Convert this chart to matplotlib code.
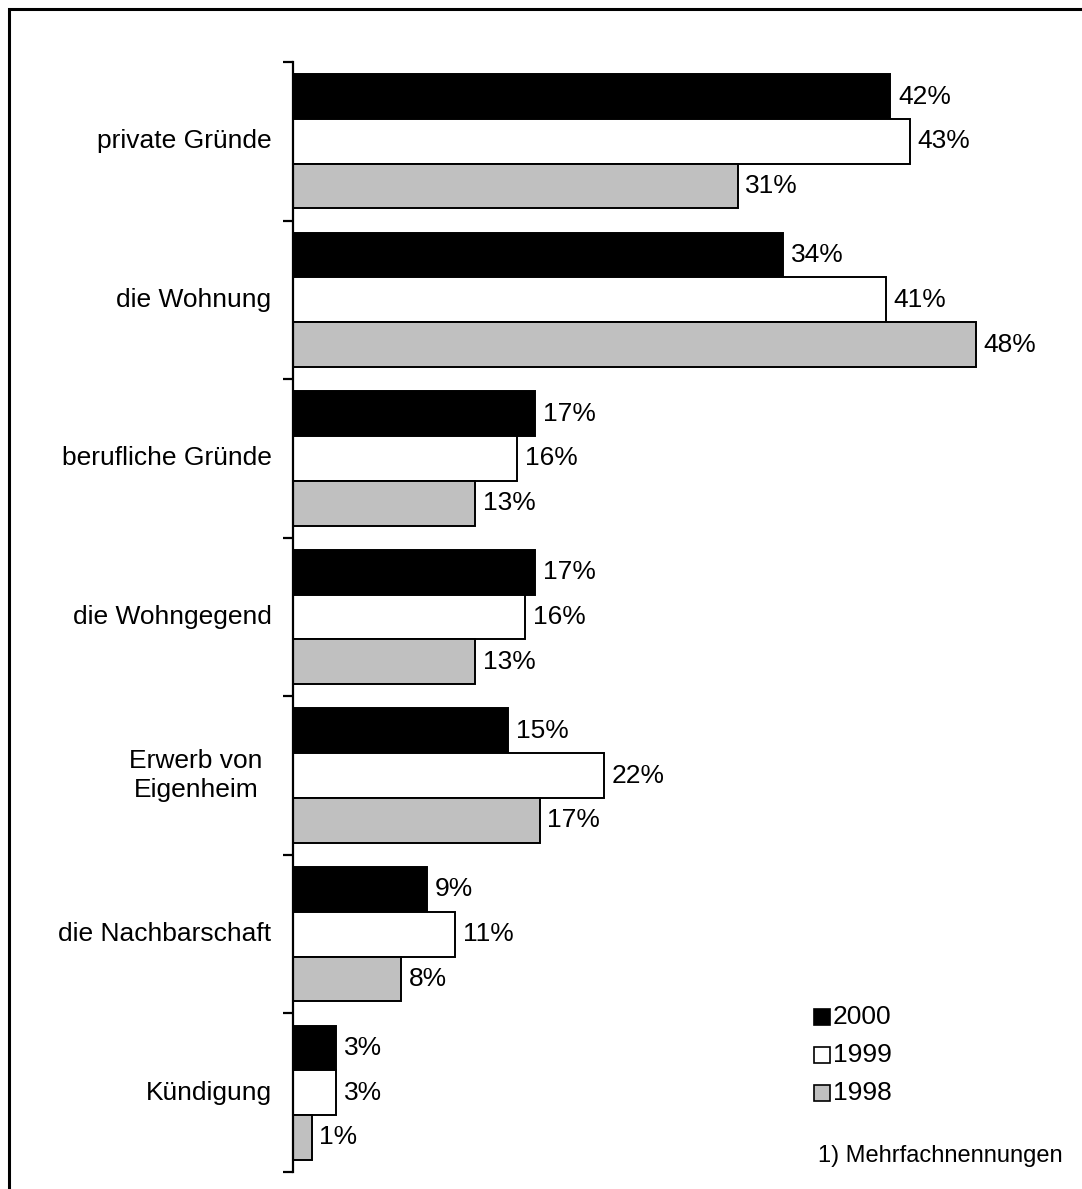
import numpy as np
import matplotlib.pyplot as plt
from matplotlib.patches import Rectangle

plt.rcParams['font.family'] = ['Liberation Sans', 'DejaVu Sans']

categories = ["private Gründe", "die Wohnung", "berufliche Gründe", "die Wohngegend",
              "Erwerb von\nEigenheim", "die Nachbarschaft", "Kündigung"]
years = ["2000", "1999", "1998"]
v2000 = [41.9, 34.4, 17.0, 17.0, 15.1, 9.4, 3.0]
v1999 = [43.3, 41.6, 15.7, 16.3, 21.8, 11.4, 3.0]
v1998 = [31.2, 47.9, 12.8, 12.8, 17.3, 7.6, 1.3]
lab2000 = ["42%", "34%", "17%", "17%", "15%", "9%", "3%"]
lab1999 = ["43%", "41%", "16%", "16%", "22%", "11%", "3%"]
lab1998 = ["31%", "48%", "13%", "13%", "17%", "8%", "1%"]
colors = ["black", "white", "#c0c0c0"]
footnote = "1) Mehrfachnennungen"

FS = 19
W, H = 1082, 1189
fig = plt.figure(figsize=(W / 100, H / 100), dpi=100)
# axes: x from 293 px, y from 62 px to 1172 px
ax = fig.add_axes([293 / W, 1 - 1172 / H, (1082 - 293) / W, (1172 - 62) / H])

n = len(categories)
y = np.arange(n)
bh = 0.282
series = [(v2000, lab2000), (v1999, lab1999), (v1998, lab1998)]
for k, (vals, labs) in enumerate(series):
    pos = y + (k - 1) * bh
    ax.barh(pos, vals, height=bh, color=colors[k], edgecolor="black", linewidth=1.4, zorder=2)
    for p, v, t in zip(pos, vals, labs):
        ax.text(v + 0.55, p, t, va="center", ha="left", fontsize=FS)

ax.set_ylim(n - 0.5, -0.5)
ax.set_xlim(0, (1082 - 293) / 14.25)
ax.set_yticks(np.arange(-0.5, n, 1.0))
ax.set_yticklabels([])
ax.tick_params(axis="y", length=7, width=1.6, direction="out")

# category labels
for i, c in enumerate(categories):
    if "\n" in c:
        ax.text(-6.8, i, c, ha="center", va="center", fontsize=FS, linespacing=1.22)
    else:
        ax.text(-1.5, i, c, ha="right", va="center", fontsize=FS)

ax.set_xticks([])
for s in ["top", "right", "bottom"]:
    ax.spines[s].set_visible(False)
ax.spines["left"].set_linewidth(1.6)

# legend
for k, yr in enumerate(years):
    yy = 1017 + k * 38
    fig.patches.append(Rectangle((814 / W, 1 - (yy + 8) / H), 16 / W, 16 / H,
                                 facecolor=colors[k], edgecolor="black", linewidth=1.2,
                                 transform=fig.transFigure))
    fig.text(833 / W, 1 - yy / H, yr, ha="left", va="center", fontsize=FS)
fig.text(818 / W, 1 - 1156 / H, footnote, ha="left", va="center", fontsize=17)

# outer frame
fig.patches.append(Rectangle((9 / W, -0.05), 1.2, 1 - 9 / H + 0.05, fill=False,
                             edgecolor="black", linewidth=2.2, transform=fig.transFigure))

fig.savefig("out.png", dpi=100)
